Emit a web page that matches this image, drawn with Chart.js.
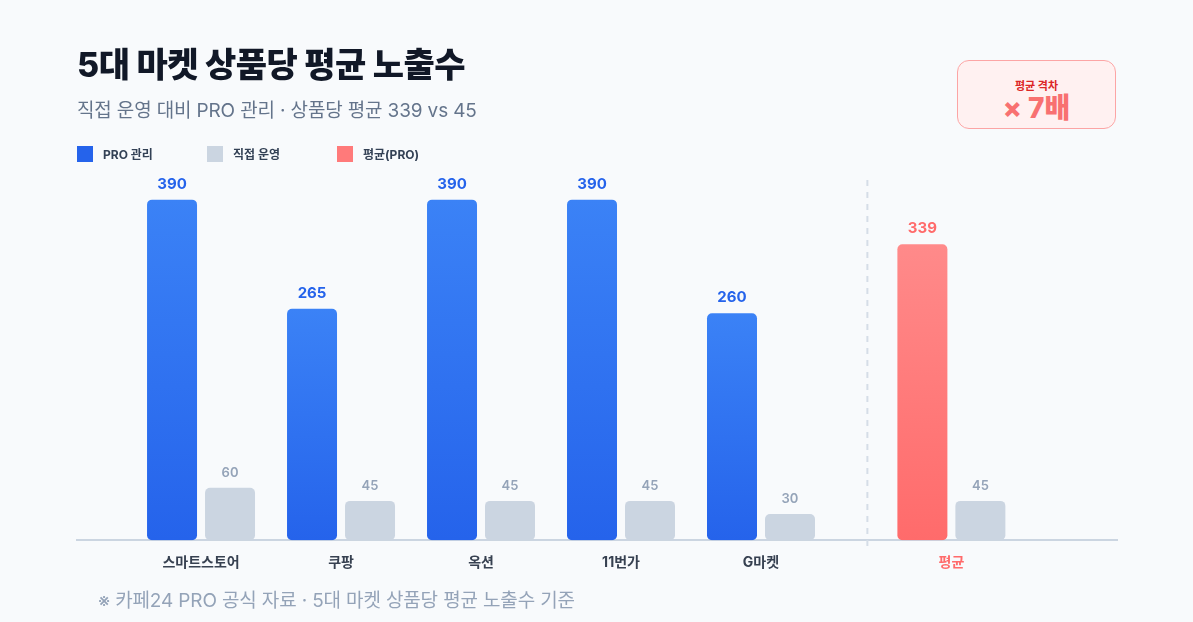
<!DOCTYPE html>
<html lang="ko">
<head>
<meta charset="utf-8">
<title>5대 마켓 상품당 평균 노출수</title>
<script src="https://cdn.jsdelivr.net/npm/chart.js@4.4.1/dist/chart.umd.min.js"></script>
<style>
    html, body { margin: 0; padding: 0; }
    body {
        width: 1193px; height: 622px; overflow: hidden;
        background: #f8fafc;
        font-family: Inter, "Noto Sans CJK KR", sans-serif;
        position: relative;
    }
    #chartWrap { position: absolute; left: 0; top: 0; width: 1193px; height: 622px; }
    .title {
        position: absolute; left: 77px; top: 38px; margin: 0;
        font-size: 34px; font-weight: 800; color: #111827; letter-spacing: -0.5px;
    }
    .subtitle {
        position: absolute; left: 77px; top: 95px; margin: 0;
        font-size: 19px; color: #64748b; letter-spacing: -0.15px;
    }
    .legend { position: absolute; left: 77px; top: 145px; display: flex; }
    .legend-item { width: 130px; display: flex; align-items: center; font-size: 12px; font-weight: 700; color: #334155; }
    .legend-item i { width: 16px; height: 16px; margin-right: 10px; display: inline-block; }
    .badge {
        position: absolute; left: 957px; top: 60px; width: 157px; height: 67px;
        border: 1.5px solid #fca5a5; border-radius: 12px; background: #fff1f1;
        text-align: center;
    }
    .badge .cap { margin-top: 16px; font-size: 11px; font-weight: 700; color: #dc2626; }
    .badge .big { margin-top: 0px; font-size: 28px; font-weight: 800; color: #f87171; line-height: 30px; }
    .note {
        position: absolute; left: 98px; top: 585px; margin: 0;
        font-size: 19px; color: #94a3b8; letter-spacing: -0.15px;
    }
</style>
</head>
<body>
<div id="chartWrap"><canvas id="exposureChart"></canvas></div>

<h1 class="title">5대 마켓 상품당 평균 노출수</h1>
<p class="subtitle">직접 운영 대비 PRO 관리 · 상품당 평균 339 vs 45</p>
<div class="legend">
    <div class="legend-item"><i style="background:#2563eb"></i>PRO 관리</div>
    <div class="legend-item"><i style="background:#cbd5e1"></i>직접 운영</div>
    <div class="legend-item"><i style="background:#ff7a7a"></i>평균(PRO)</div>
</div>
<div class="badge">
    <div class="cap">평균 격차</div>
    <div class="big">× 7배</div>
</div>
<p class="note">※ 카페24 PRO 공식 자료 · 5대 마켓 상품당 평균 노출수 기준</p>

<script>
// Chart data
const markets = ['스마트스토어', '쿠팡', '옥션', '11번가', 'G마켓', '평균'];
const proValues = [390, 265, 390, 390, 260, 339];
const directValues = [60, 45, 45, 45, 30, 45];

// Layout: the average group sits a bit further right, behind a divider
const AVG_INDEX = 5;
const AVG_EXTRA_GAP = 0.36;
const DIVIDER_AT = 4.76;
const FONT = 'Inter, "Noto Sans CJK KR", sans-serif';

const slotOf = i => i + (i >= AVG_INDEX ? AVG_EXTRA_GAP : 0);
const slots = markets.map((m, i) => slotOf(i));

// Vertical gradient for a single bar
function barGradient(ctx, top, bottom) {
    const { chart, raw } = ctx;
    const area = chart.chartArea;
    if (!area || !chart.scales.y) return top;
    const y0 = chart.scales.y.getPixelForValue(raw.y);
    const y1 = chart.scales.y.getPixelForValue(0);
    const g = chart.ctx.createLinearGradient(0, y0, 0, y1);
    g.addColorStop(0, top);
    g.addColorStop(1, bottom);
    return g;
}

// Value labels above bars + dashed divider
const barExtras = {
    id: 'barExtras',
    afterDatasetsDraw(chart) {
        const { ctx, chartArea, scales } = chart;

        // divider
        const dx = scales.x.getPixelForValue(DIVIDER_AT);
        ctx.save();
        ctx.strokeStyle = '#d5dde7';
        ctx.lineWidth = 2;
        ctx.setLineDash([6, 6]);
        ctx.beginPath();
        ctx.moveTo(dx, 180);
        ctx.lineTo(dx, chartArea.bottom + 6);
        ctx.stroke();
        ctx.restore();

        chart.data.datasets.forEach((ds, di) => {
            const meta = chart.getDatasetMeta(di);
            meta.data.forEach((bar, i) => {
                const v = ds.data[i].y;
                ctx.save();
                ctx.textAlign = 'center';
                ctx.textBaseline = 'alphabetic';
                if (di === 0) {
                    ctx.font = `700 15px ${FONT}`;
                    ctx.fillStyle = i === AVG_INDEX ? '#ff6b6b' : '#2563eb';
                } else {
                    ctx.font = `600 13px ${FONT}`;
                    ctx.fillStyle = '#94a3b8';
                }
                ctx.fillText(v, bar.x, bar.y - 11);
                ctx.restore();
            });
        });
    }
};

const ctx = document.getElementById('exposureChart').getContext('2d');

new Chart(ctx, {
    type: 'bar',
    data: {
        datasets: [
            {
                label: 'PRO 관리',
                data: proValues.map((v, i) => ({ x: slots[i], y: v })),
                backgroundColor: c => c.dataIndex === AVG_INDEX
                    ? barGradient(c, '#ff8a8a', '#ff6b6b')
                    : barGradient(c, '#3b82f6', '#2563eb'),
                borderRadius: 5,
                borderSkipped: false
            },
            {
                label: '직접 운영',
                data: directValues.map((v, i) => ({ x: slots[i], y: v })),
                backgroundColor: '#cbd5e1',
                borderRadius: 5,
                borderSkipped: false
            }
        ]
    },
    options: {
        responsive: true,
        maintainAspectRatio: false,
        animation: false,
        categoryPercentage: 116 / 140,
        barPercentage: 50 / 58,
        layout: { padding: { left: 77, right: 76, top: 156, bottom: 37 } },
        plugins: {
            legend: { display: false },
            tooltip: { enabled: false }
        },
        scales: {
            x: {
                type: 'linear',
                offset: false,
                min: -0.886,
                max: 6.543,
                grid: { display: false, drawTicks: false },
                border: { display: true, color: '#cbd5e1', width: 2 },
                afterBuildTicks: scale => {
                    scale.ticks = slots.map(v => ({ value: v }));
                },
                ticks: {
                    autoSkip: false,
                    maxRotation: 0,
                    padding: 14,
                    font: { family: FONT, size: 14, weight: '700' },
                    color: c => c.index === AVG_INDEX ? '#ff6b6b' : '#374151',
                    callback: (value, index) => markets[index]
                }
            },
            y: {
                display: false,
                min: 0,
                max: 440
            }
        }
    },
    plugins: [barExtras]
});
</script>
</body>
</html>
